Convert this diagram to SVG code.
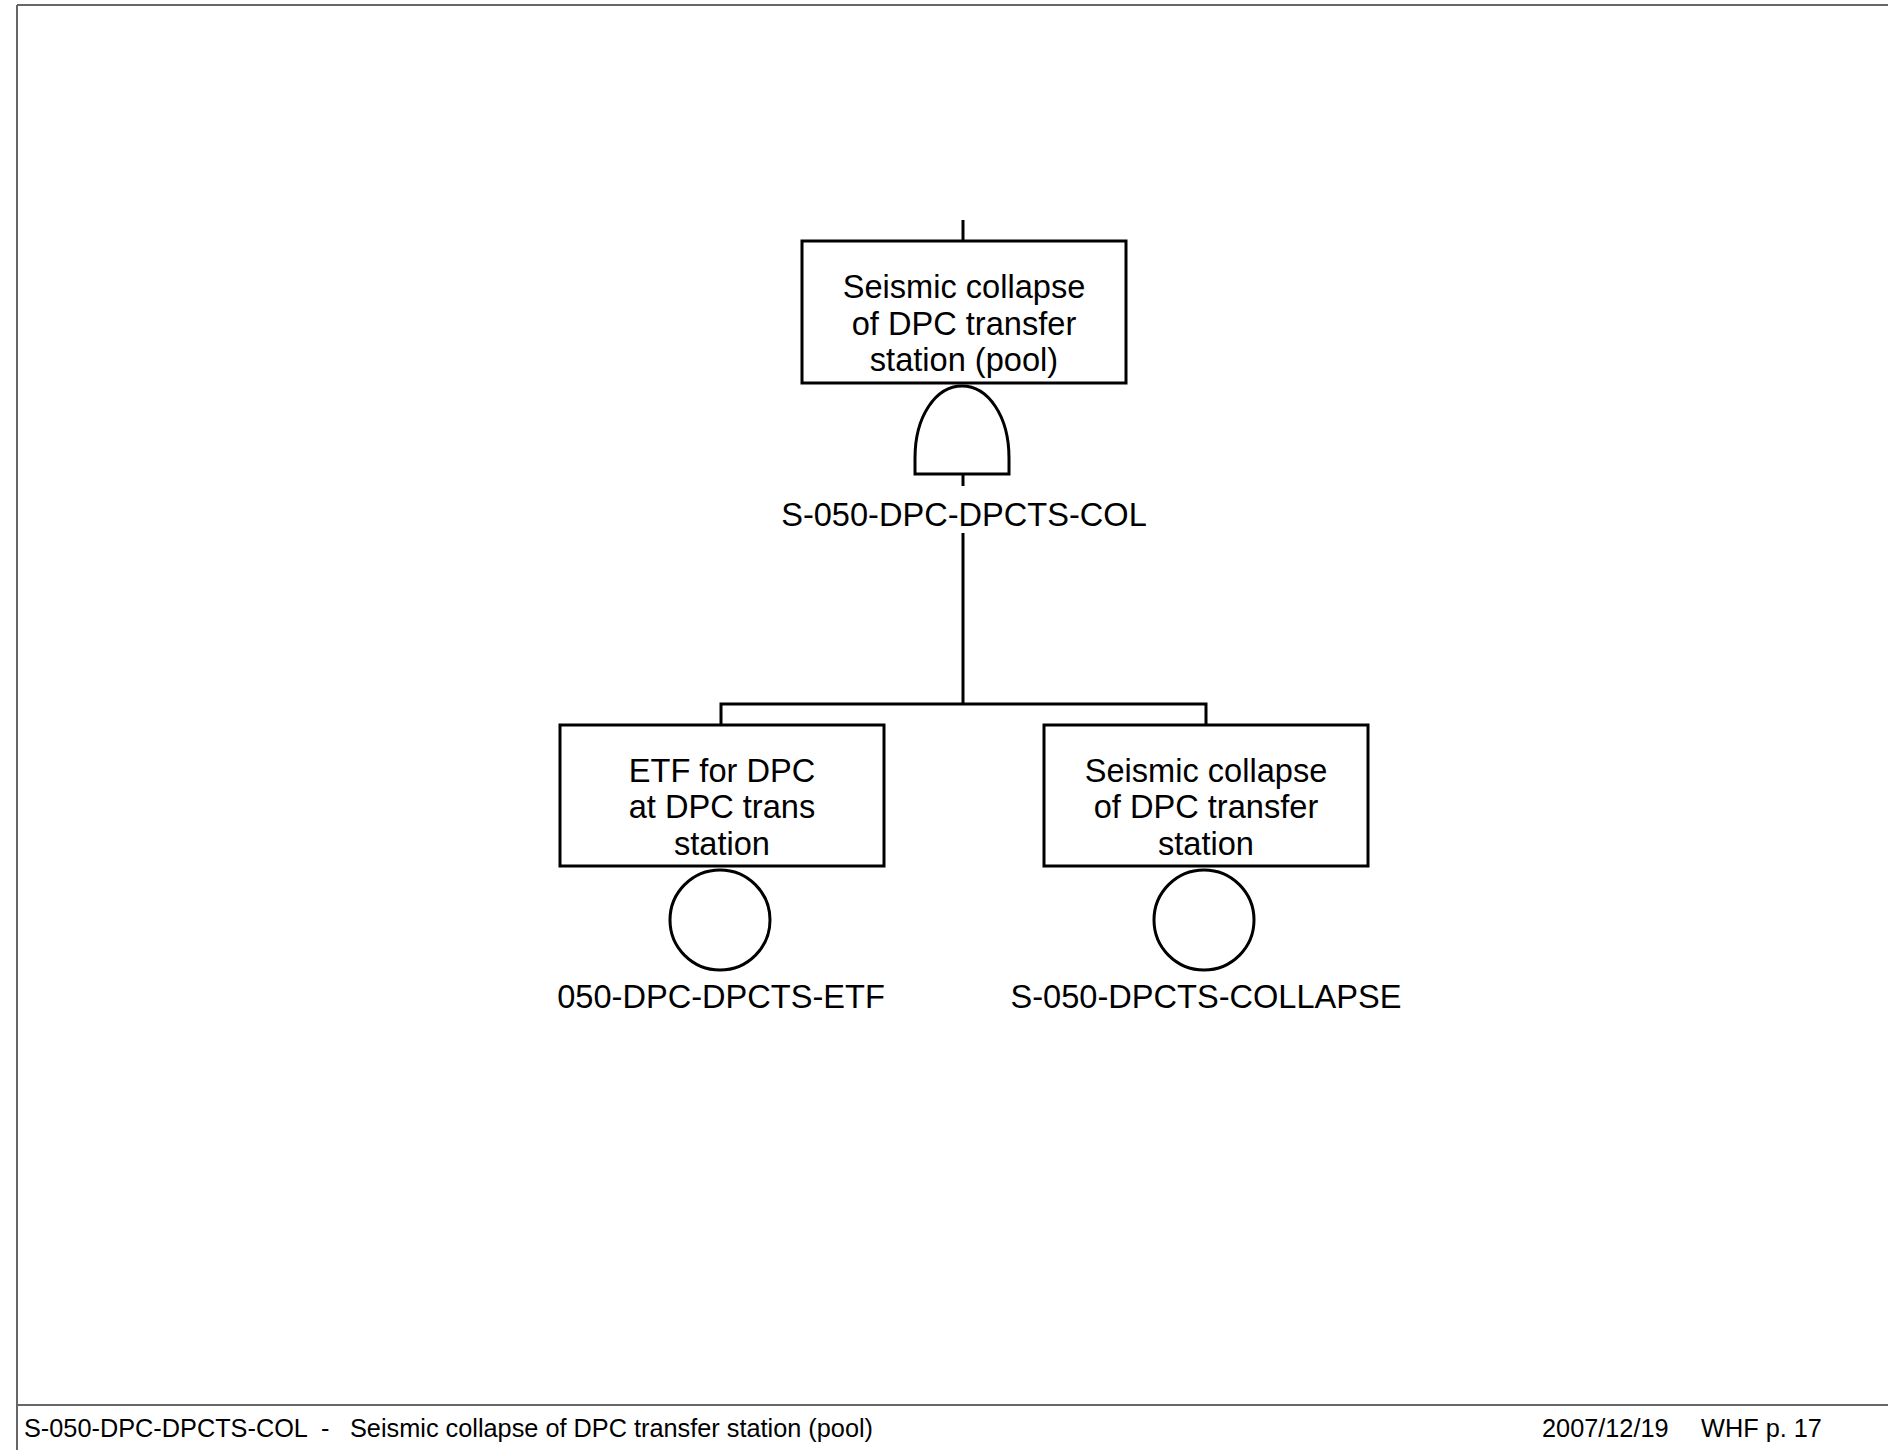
<svg xmlns="http://www.w3.org/2000/svg" width="1888" height="1450" viewBox="0 0 1888 1450">
<style>
.frame{stroke:#666;stroke-width:2;fill:none}
.box{fill:#fff;stroke:#000;stroke-width:3}
.ln{stroke:#000;stroke-width:3;fill:none}
.t{font-family:"Liberation Sans",Arial,sans-serif;font-size:32.6px;fill:#000;text-anchor:middle}
.f{font-family:"Liberation Sans",Arial,sans-serif;font-size:25.3px;fill:#000}
</style>
<rect width="1888" height="1450" fill="#fff"/>
<g id="frame">
<line class="frame" x1="17" y1="5" x2="1888" y2="5"/>
<line class="frame" x1="17" y1="5" x2="17" y2="1450"/>
<line class="frame" x1="17" y1="1405" x2="1888" y2="1405"/>
</g>
<g id="connectors">
<line class="ln" x1="963" y1="220" x2="963" y2="241"/>
<line class="ln" x1="963" y1="474" x2="963" y2="486"/>
<line class="ln" x1="963" y1="533" x2="963" y2="704"/>
<polyline class="ln" points="721,725 721,704 1206,704 1206,725"/>
</g>
<g id="top">
<rect class="box" x="802" y="241" width="324" height="142"/>
<text class="t" x="964" y="298">Seismic collapse</text>
<text class="t" x="964" y="335">of DPC transfer</text>
<text class="t" x="964" y="371">station (pool)</text>
<path class="box" d="M915,474 V458 C915,416 936,386 962,386 C988,386 1009,416 1009,458 V474 Z"/>
<text class="t" x="964" y="526">S-050-DPC-DPCTS-COL</text>
</g>
<g id="etf">
<rect class="box" x="560" y="725" width="324" height="141"/>
<text class="t" x="722" y="782">ETF for DPC</text>
<text class="t" x="722" y="818">at DPC trans</text>
<text class="t" x="722" y="855">station</text>
<circle class="box" cx="720" cy="920" r="50"/>
<text class="t" x="721" y="1008">050-DPC-DPCTS-ETF</text>
</g>
<g id="collapse">
<rect class="box" x="1044" y="725" width="324" height="141"/>
<text class="t" x="1206" y="782">Seismic collapse</text>
<text class="t" x="1206" y="818">of DPC transfer</text>
<text class="t" x="1206" y="855">station</text>
<circle class="box" cx="1204" cy="920" r="50"/>
<text class="t" x="1206" y="1008">S-050-DPCTS-COLLAPSE</text>
</g>
<g id="footer">
<text class="f" x="24" y="1437">S-050-DPC-DPCTS-COL</text>
<text class="f" x="321" y="1437">-</text>
<text class="f" x="350" y="1437">Seismic collapse of DPC transfer station (pool)</text>
<text class="f" x="1542" y="1437">2007/12/19</text>
<text class="f" x="1701" y="1437">WHF p. 17</text>
</g>
</svg>
